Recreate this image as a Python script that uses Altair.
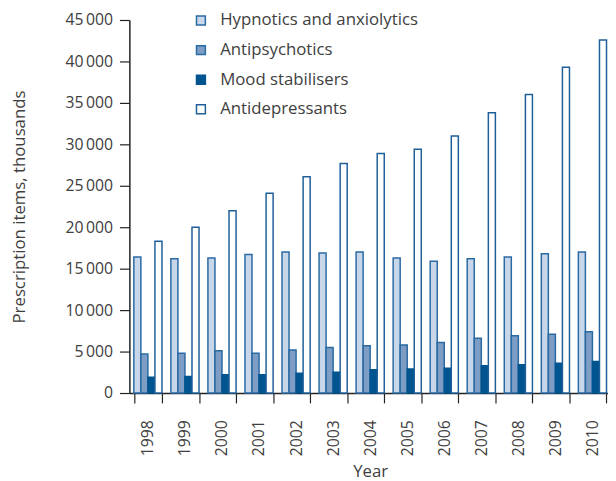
import altair as alt
import pandas as pd

years = [str(y) for y in range(1998, 2011)]
series = ["Hypnotics and anxiolytics", "Antipsychotics", "Mood stabilisers", "Antidepressants"]
hypnotics = [16400, 16200, 16300, 16700, 17000, 16900, 17000, 16300, 15900, 16200, 16400, 16800, 17000]
antipsychotics = [4700, 4800, 5100, 4800, 5200, 5500, 5700, 5800, 6100, 6600, 6900, 7100, 7400]
mood = [1900, 2000, 2200, 2200, 2400, 2500, 2800, 2900, 3000, 3300, 3400, 3600, 3800]
antidepressants = [18300, 20000, 22000, 24100, 26100, 27700, 28900, 29400, 31000, 33800, 36000, 39300, 42600]

fills = ["#c8d6e9", "#7d9dc5", "#00548f", "#ffffff"]
strokes = ["#2a6aa3", "#2a6aa3", "#00548f", "#1f5f99"]

rows = []
for name, vals in zip(series, [hypnotics, antipsychotics, mood, antidepressants]):
    for y, v in zip(years, vals):
        rows.append({"Year": y, "Drug": name, "Items": v})
df = pd.DataFrame(rows)

FONT = "Open Sans"
TXT = "#404040"

chart = alt.Chart(df).mark_bar(strokeWidth=1.5).encode(
    x=alt.X("Year:N", sort=years,
            scale=alt.Scale(paddingInner=0.24, paddingOuter=0.12, range=[0, 488]),
            axis=alt.Axis(title="Year", labelAngle=-90, tickBand="extent",
                          labelAlign="right", labelBaseline="middle",
                          tickSize=10, labelPadding=17, titlePadding=8)),
    xOffset=alt.XOffset("Drug:N", sort=series, scale=alt.Scale(paddingInner=0, paddingOuter=0)),
    y=alt.Y("Items:Q", scale=alt.Scale(domain=[0, 45000], nice=False),
            axis=alt.Axis(title="Prescription items, thousands", values=list(range(0, 45001, 5000)),
                          labelExpr="replace(format(datum.value, ','), ',', '\u2009')",
                          tickSize=10, labelPadding=7, titlePadding=37, grid=False)),
    fill=alt.Fill("Drug:N", sort=series,
                  scale=alt.Scale(domain=series, range=fills),
                  legend=alt.Legend(title=None, orient="none", legendX=64, legendY=-8,
                                    symbolType="square", symbolSize=81, symbolStrokeWidth=1.5,
                                    labelFontSize=17, labelFont=FONT, labelColor=TXT,
                                    labelLimit=0, rowPadding=12, labelOffset=11)),
    stroke=alt.Stroke("Drug:N", sort=series,
                      scale=alt.Scale(domain=series, range=strokes), legend=None),
).properties(
    width=485, height=378,
    autosize=alt.AutoSizeParams(type="none"),
    padding={"left": 123, "top": 9, "right": 0, "bottom": 86},
).configure_view(stroke=None).configure_axis(
    domainColor="#222222", tickColor="#222222", domainWidth=1.5, tickWidth=1.2,
    labelFont=FONT, titleFont=FONT, labelFontSize=16, titleFontSize=17,
    labelColor=TXT, titleColor=TXT, titleFontWeight="normal"
).configure_legend(symbolStrokeColor="#1f5f99")

chart.save("out.html", embed_options={"renderer": "svg", "actions": False})
